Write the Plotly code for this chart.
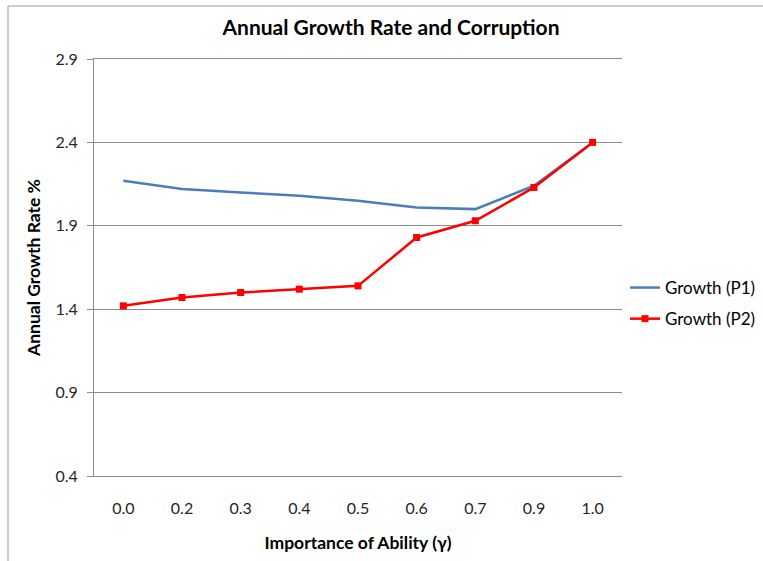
import plotly.graph_objects as go

# Importance of ability (gamma) categories
gamma = ["0.0", "0.2", "0.3", "0.4", "0.5", "0.6", "0.7", "0.9", "1.0"]

# Annual growth rate (%) under the two policies
growth_p1 = [2.17, 2.12, 2.10, 2.08, 2.05, 2.01, 2.00, 2.14, 2.40]
growth_p2 = [1.42, 1.47, 1.50, 1.52, 1.54, 1.83, 1.93, 2.13, 2.40]

y_ticks = [0.4, 0.9, 1.4, 1.9, 2.4, 2.9]

FONT = "Lato"
GRID = "#8c8c8c"

fig = go.Figure()

fig.add_trace(go.Scatter(
    x=gamma, y=growth_p1, mode="lines", name="Growth (P1)",
    line=dict(color="#4a7ebb", width=2.5),
    legendgroup="p1",
))
fig.add_trace(go.Scatter(
    x=gamma, y=growth_p2, mode="lines+markers", name="Growth (P2)",
    line=dict(color="#ff0000", width=2.5),
    marker=dict(symbol="square", size=7, color="#ff0000"),
    legendgroup="p2",
))

# Plot area edges in pixels: left 94, right 622, top 59, bottom 476
L, R, T, B = 94, 622, 59, 476
W, H = 763, 561

def px_x(p):
    return (p - L) / (R - L)

def px_y(p):
    return (B - p) / (B - T)

# Chart-area frame (top and left edges)
fig.add_shape(type="line", xref="paper", yref="paper",
              x0=px_x(8), x1=px_x(W + 2), y0=px_y(6), y1=px_y(6),
              line=dict(color="#bdbdbd", width=1.5))
fig.add_shape(type="line", xref="paper", yref="paper",
              x0=px_x(8), x1=px_x(8), y0=px_y(6), y1=px_y(H + 2),
              line=dict(color="#bdbdbd", width=1.5))

fig.update_layout(
    width=W, height=H,
    margin=dict(l=L, r=W - R, t=T, b=H - B, pad=0, autoexpand=False),
    paper_bgcolor="white", plot_bgcolor="white",
    font=dict(family=FONT, size=16, color="#262626"),
    title=dict(text="<b>Annual Growth Rate and Corruption</b>",
               x=(391 / W), xanchor="center", y=1 - 28 / H, yanchor="middle",
               font=dict(family=FONT, size=21, color="#000000")),
    showlegend=True,
    legend=dict(x=px_x(625), xanchor="left", y=px_y(270), yanchor="top",
                font=dict(family=FONT, size=17, color="#000000"),
                bgcolor="rgba(0,0,0,0)", tracegroupgap=6,
                traceorder="grouped", itemwidth=30),
)

fig.update_xaxes(
    type="category", categoryorder="array", categoryarray=gamma,
    range=[-0.5, len(gamma) - 0.5],
    showgrid=False, zeroline=False,
    showline=True, mirror=True, linecolor=GRID, linewidth=1,
    ticks="",
    automargin=False,
    tickfont=dict(family=FONT, size=16, color="#262626"),
    title=dict(text="<b>Importance of Ability (γ)</b>", standoff=20,
               font=dict(family=FONT, size=17.5, color="#000000")),
    ticklabelstandoff=18,
)

fig.update_yaxes(
    range=[0.4, 2.9], tickvals=y_ticks,
    ticktext=[f"{v:.1f}" for v in y_ticks],
    showgrid=True, gridcolor=GRID, gridwidth=1,
    zeroline=False,
    showline=True, linecolor=GRID, linewidth=1,
    ticks="outside", ticklen=6, tickcolor=GRID,
    automargin=False,
    tickfont=dict(family=FONT, size=16, color="#262626"),
    title=dict(text="<b>Annual Growth Rate %</b>", standoff=10,
               font=dict(family=FONT, size=17.5, color="#000000")),
    ticklabelstandoff=6,
)

fig.write_html("out.html")
